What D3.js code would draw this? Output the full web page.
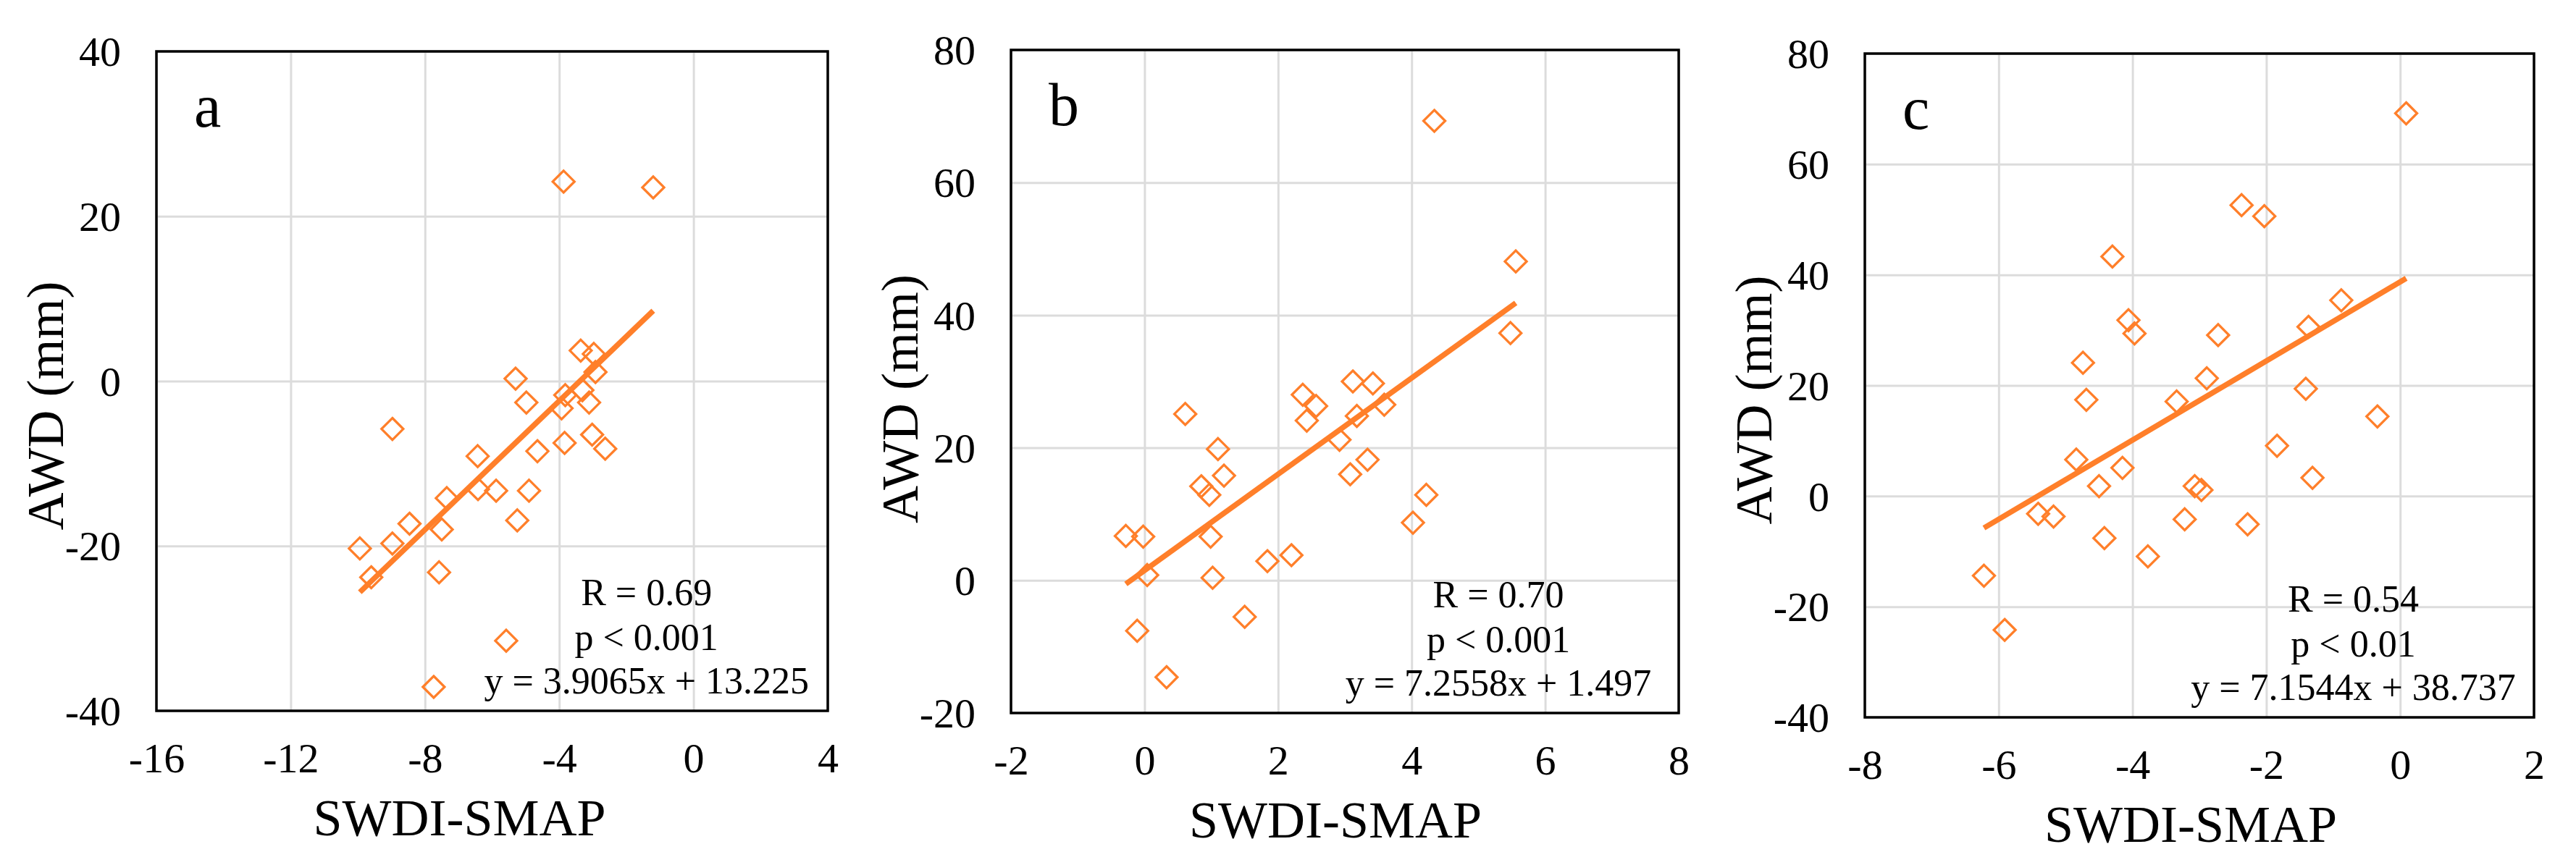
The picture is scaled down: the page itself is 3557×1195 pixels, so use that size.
<!DOCTYPE html>
<html>
<head>
<meta charset="utf-8">
<script src="https://cdn.jsdelivr.net/npm/d3@7.9.0/dist/d3.min.js"></script>
<style>
  body { margin: 0; background: #fff; }
  text { font-family: "Liberation Serif", "Times New Roman", serif; fill: #000; }
</style>
</head>
<body>
<div id="chart"></div>
<script>
// Panel a: SWDI-SMAP vs AWD
const xA = [-3.87, -1.2, -3.36, -2.97, -2.92, -5.30, -4.98, -3.82, -3.93, -3.31,
            -3.11, -3.02, -2.63, -3.84, -4.65, -6.43, -5.88, -4.90, -6.42, -7.35,
            -5.25, -8.46, -7.50, -8.97, -9.94, -9.60, -7.58, -5.58, -7.74, -8.97];
const yA = [24.2, 23.5, 3.7, 3.3, 1.1, 0.3, -2.6, -1.7, -3.3, -1.1,
            -2.6, -6.5, -8.2, -7.5, -8.5, -9.1, -13.3, -13.3, -13.1, -14.2,
            -16.9, -17.3, -18.0, -19.7, -20.3, -23.8, -23.2, -31.5, -37.1, -5.8];

// Panel b
const xB = [4.34, 5.56, 5.48, 3.12, 3.42, 2.37, 2.57, 3.59, 3.18, 2.43,
            0.61, 2.92, 1.10, 1.19, 0.85, 0.97, 3.08, 3.34, 4.22, 4.02,
            -0.28, -0.02, 0.99, 1.84, 2.20, 0.04, 1.02, 1.50, -0.11, 0.33];
const yB = [69.3, 48.1, 37.3, 30.0, 29.7, 28.0, 26.3, 26.5, 24.8, 24.1,
            25.1, 21.2, 19.8, 15.8, 14.2, 12.9, 16.0, 18.2, 12.9, 8.7,
            6.7, 6.6, 6.6, 2.9, 3.8, 0.8, 0.4, -5.5, -7.6, -14.6];

// Panel c
const xC = [0.09, -2.37, -2.03, -4.30, -0.88, -4.06, -3.97, -2.72, -1.37, -4.74,
            -2.89, -1.41, -4.69, -3.34, -0.34, -1.84, -4.84, -4.15, -1.31, -4.50,
            -3.07, -2.97, -5.41, -5.18, -3.22, -2.28, -4.42, -3.77, -6.22, -5.91];
const yC = [69.2, 52.6, 50.6, 43.3, 35.4, 31.8, 29.4, 29.1, 30.6, 24.1,
            21.3, 19.4, 17.4, 17.1, 14.4, 9.1, 6.6, 5.1, 3.3, 1.8,
            1.8, 1.1, -3.2, -3.7, -4.2, -5.1, -7.6, -10.9, -14.4, -24.2];

const panelLabels = ["a", "b", "c"];
const slopes = [3.9065, 7.2558, 7.1544];
const intercepts = [13.225, 1.497, 38.737];
const rTexts = ["R = 0.69", "R = 0.70", "R = 0.54"];
const pTexts = ["p < 0.001", "p < 0.001", "p < 0.01"];
const eqTexts = ["y = 3.9065x + 13.225", "y = 7.2558x + 1.497", "y = 7.1544x + 38.737"];

const xDomains = [[-16, 4], [-2, 8], [-8, 2]];
const yDomains = [[-40, 40], [-20, 80], [-40, 80]];
const xTicks = [[-16, -12, -8, -4, 0, 4], [-2, 0, 2, 4, 6, 8], [-8, -6, -4, -2, 0, 2]];
const yTicks = [[-40, -20, 0, 20, 40], [-20, 0, 20, 40, 60, 80], [-40, -20, 0, 20, 40, 60, 80]];

const xTitle = "SWDI-SMAP";
const yTitle = "AWD (mm)";

// layout of the three plot boxes (left, right, top, bottom)
const boxes = [[216, 1143, 71, 982], [1396, 2318, 69, 985], [2575, 3499, 74, 991]];
const xTitleShift = [-45, -13, -12];
const yTitleShift = [34, 24, 20];

const orange = "#FF7F2A";
const W = 3557, H = 1195;

const svg = d3.select("#chart")
  .append("svg")
    .attr("width", W)
    .attr("height", H);

const xsAll = [xA, xB, xC], ysAll = [yA, yB, yC];

boxes.forEach(([l, r, t, b], i) => {
  const w = r - l, h = b - t;
  const g = svg.append("g").attr("transform", `translate(${l}, ${t})`);

  const x = d3.scaleLinear().domain(xDomains[i]).range([0, w]);
  const y = d3.scaleLinear().domain(yDomains[i]).range([h, 0]);

  // gridlines
  g.append("g")
    .call(d3.axisBottom(x).tickValues(xTicks[i]).tickSize(h).tickFormat(""))
    .call(a => a.select(".domain").remove())
    .call(a => a.selectAll("line").attr("stroke", "#dcdcdc").attr("stroke-width", 3));
  g.append("g")
    .call(d3.axisLeft(y).tickValues(yTicks[i]).tickSize(-w).tickFormat(""))
    .call(a => a.select(".domain").remove())
    .call(a => a.selectAll("line").attr("stroke", "#dcdcdc").attr("stroke-width", 3));

  // tick labels
  g.append("g")
    .attr("transform", `translate(0, ${h})`)
    .call(d3.axisBottom(x).tickValues(xTicks[i]).tickSize(0).tickFormat(d => String(d)))
    .call(a => a.select(".domain").remove())
    .call(a => a.selectAll("text")
      .attr("y", 85).attr("dy", 0)
      .attr("font-size", 58).attr("fill", "#000"));
  g.append("g")
    .call(d3.axisLeft(y).tickValues(yTicks[i]).tickSize(0).tickFormat(d => String(d)))
    .call(a => a.select(".domain").remove())
    .call(a => a.selectAll("text")
      .attr("x", -49).attr("dy", "0.34em")
      .attr("font-size", 58).attr("fill", "#000"));

  // plot border
  g.append("rect")
    .attr("width", w).attr("height", h)
    .attr("fill", "none").attr("stroke", "#000").attr("stroke-width", 3.5);

  // points
  const pts = d3.zip(xsAll[i], ysAll[i]);
  g.selectAll("path.pt")
    .data(pts)
    .join("path")
      .attr("class", "pt")
      .attr("transform", ([vx, vy]) => `translate(${x(vx)}, ${y(vy)})`)
      .attr("d", d3.symbol(d3.symbolDiamond2, 575))
      .attr("fill", "none")
      .attr("stroke", orange)
      .attr("stroke-width", 3.3);

  // trend line over the data extent
  const ext = d3.extent(xsAll[i]);
  g.append("path")
    .datum(ext.map(v => [v, slopes[i] * v + intercepts[i]]))
    .attr("d", d3.line().x(d => x(d[0])).y(d => y(d[1])))
    .attr("stroke", orange)
    .attr("stroke-width", 7.5)
    .attr("fill", "none");

  // panel letter
  g.append("text")
    .attr("x", 52).attr("y", 104)
    .attr("font-size", 84)
    .text(panelLabels[i]);

  // statistics
  const sx = w * 0.73;
  [[rTexts[i], -146], [pTexts[i], -84], [eqTexts[i], -24]].forEach(([s, dy]) => {
    g.append("text")
      .attr("x", sx).attr("y", h + dy)
      .attr("text-anchor", "middle")
      .attr("font-size", 52)
      .text(s);
  });

  // axis titles
  g.append("text")
    .attr("x", w / 2 + xTitleShift[i]).attr("y", h + 172)
    .attr("text-anchor", "middle")
    .attr("font-size", 72)
    .text(xTitle);
  g.append("text")
    .attr("transform", `translate(-129, ${h / 2 + yTitleShift[i]}) rotate(-90)`)
    .attr("text-anchor", "middle")
    .attr("font-size", 72)
    .text(yTitle);
});
</script>
</body>
</html>
